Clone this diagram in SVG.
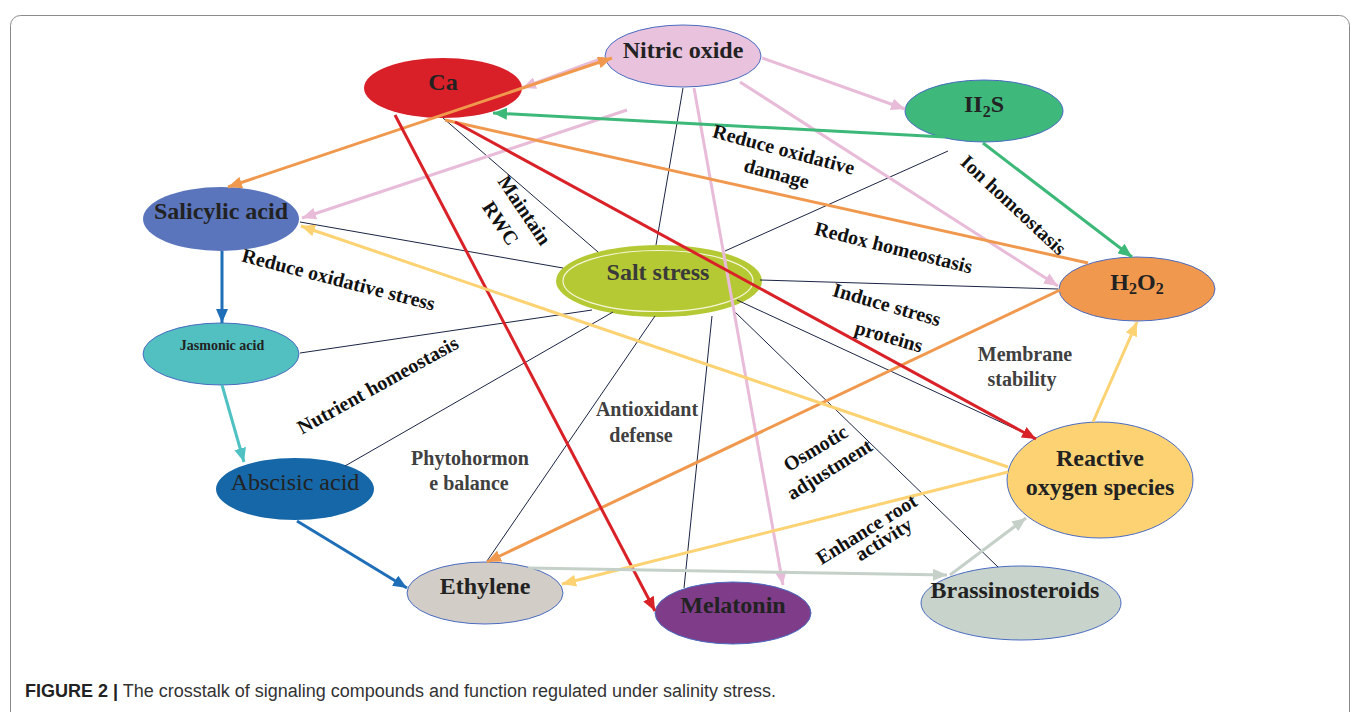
<svg xmlns="http://www.w3.org/2000/svg" width="1357" height="712" viewBox="0 0 1357 712">
<style>
.nt{font-family:"Liberation Serif","Times New Roman",serif;font-weight:bold;font-size:24px;fill:#222;text-anchor:middle}
.lb{font-family:"Liberation Serif","Times New Roman",serif;font-weight:bold;font-size:20px;fill:#111;text-anchor:middle}
.gl{font-family:"Liberation Serif","Times New Roman",serif;font-weight:bold;font-size:20px;fill:#404040;text-anchor:middle}
.nd{stroke:#4a6cc2;stroke-width:1}
.sp{stroke:#1c2444;stroke-width:1;fill:none}
.c{fill:none;stroke-width:3}
</style>
<defs>
<marker id="aPink" markerUnits="userSpaceOnUse" markerWidth="14" markerHeight="12" refX="14" refY="6" orient="auto"><path d="M0,0 L14,6 L0,12 z" fill="#e8bcd8"/></marker>
<marker id="aOr" markerUnits="userSpaceOnUse" markerWidth="14" markerHeight="12" refX="14" refY="6" orient="auto-start-reverse"><path d="M0,0 L14,6 L0,12 z" fill="#f0994e"/></marker>
<marker id="aGr" markerUnits="userSpaceOnUse" markerWidth="14" markerHeight="12" refX="14" refY="6" orient="auto"><path d="M0,0 L14,6 L0,12 z" fill="#3cb878"/></marker>
<marker id="aRed" markerUnits="userSpaceOnUse" markerWidth="14" markerHeight="12" refX="14" refY="6" orient="auto"><path d="M0,0 L14,6 L0,12 z" fill="#d92128"/></marker>
<marker id="aYel" markerUnits="userSpaceOnUse" markerWidth="14" markerHeight="12" refX="14" refY="6" orient="auto"><path d="M0,0 L14,6 L0,12 z" fill="#fcd272"/></marker>
<marker id="aBlue" markerUnits="userSpaceOnUse" markerWidth="14" markerHeight="12" refX="14" refY="6" orient="auto"><path d="M0,0 L14,6 L0,12 z" fill="#1f6fb8"/></marker>
<marker id="aTeal" markerUnits="userSpaceOnUse" markerWidth="14" markerHeight="12" refX="14" refY="6" orient="auto"><path d="M0,0 L14,6 L0,12 z" fill="#4fc1c3"/></marker>
<marker id="aGg" markerUnits="userSpaceOnUse" markerWidth="14" markerHeight="12" refX="14" refY="6" orient="auto"><path d="M0,0 L14,6 L0,12 z" fill="#c5d0c8"/></marker>
</defs>
<rect x="0" y="0" width="1357" height="712" fill="#fff"/>
<rect x="10.5" y="15.5" width="1339" height="720" rx="10" fill="none" stroke="#8a8a8a" stroke-width="1"/>

<g id="node-ca"><ellipse cx="443" cy="88" rx="79" ry="30" fill="#d91f28"/><text class="nt" x="443" y="90">Ca</text></g>
<g id="node-no"><ellipse class="nd" cx="683" cy="56" rx="78" ry="31" fill="#e9c3dd"/><text class="nt" x="683" y="58">Nitric oxide</text></g>
<g id="node-h2s"><ellipse class="nd" cx="984" cy="111" rx="79" ry="31" fill="#3eb87b"/><text class="nt" x="984" y="112">II<tspan style="font-size:16px" dy="5">2</tspan><tspan dy="-5">S</tspan></text></g>
<g id="node-sa"><ellipse cx="221" cy="219" rx="78" ry="32" fill="#5b75bd"/><text class="nt" x="221" y="219">Salicylic acid</text></g>
<g id="node-ja"><ellipse class="nd" cx="221" cy="354" rx="78" ry="31" fill="#52bfc0"/><text class="nt" x="222" y="350" style="font-size:14px">Jasmonic acid</text></g>
<g id="node-aba"><ellipse cx="295" cy="489" rx="79" ry="31" fill="#1667a8"/><text class="nt" x="295" y="490" style="font-weight:normal">Abscisic acid</text></g>
<g id="node-salt"><ellipse cx="659" cy="281" rx="103" ry="36" fill="#b5c934"/><ellipse cx="658" cy="281" rx="95" ry="30.5" fill="none" stroke="#f4f7dc" stroke-width="1.2"/><text class="nt" x="658" y="280" style="fill:#3a3a3a">Salt stress</text></g>
<g id="node-h2o2"><ellipse class="nd" cx="1137" cy="289" rx="78" ry="32" fill="#f0994e"/><text class="nt" x="1137" y="290">H<tspan style="font-size:16px" dy="4">2</tspan><tspan dy="-4">O</tspan><tspan style="font-size:16px" dy="4">2</tspan></text></g>
<g id="node-ros"><ellipse class="nd" cx="1100" cy="480" rx="93" ry="58" fill="#fcd272"/><text class="nt" x="1100" y="466">Reactive</text><text class="nt" x="1100" y="495">oxygen species</text></g>
<g id="node-eth"><ellipse class="nd" cx="485" cy="593" rx="78" ry="31" fill="#d3cdc8"/><text class="nt" x="485" y="594">Ethylene</text></g>
<g id="node-mel"><ellipse class="nd" cx="733" cy="613" rx="78" ry="31" fill="#7f3d89"/><text class="nt" x="733" y="613">Melatonin</text></g>
<g id="node-br"><ellipse class="nd" cx="1021" cy="603" rx="100" ry="37" fill="#c8d3cb"/><text class="nt" x="1015" y="598">Brassinosteroids</text></g>

<g id="connectors">
<line class="sp" x1="443" y1="118" x2="598" y2="252"/>
<line class="sp" x1="683" y1="88" x2="656" y2="245"/>
<line class="sp" x1="948" y1="151" x2="725" y2="251"/>
<line class="sp" x1="300" y1="222" x2="563" y2="268"/>
<line class="sp" x1="300" y1="353" x2="592" y2="310"/>
<line class="sp" x1="345" y1="466" x2="613" y2="312"/>
<line class="sp" x1="487" y1="561" x2="655" y2="316"/>
<line class="sp" x1="684" y1="588" x2="712" y2="316"/>
<line class="sp" x1="998" y1="567" x2="735" y2="312"/>
<line class="sp" x1="737" y1="300" x2="1033" y2="437"/>
<line class="sp" x1="760" y1="280" x2="1058" y2="289"/>

<line class="c" stroke="#e8bcd8" x1="603" y1="58" x2="522" y2="88" marker-end="url(#aPink)"/>
<line class="c" stroke="#e8bcd8" x1="627" y1="110" x2="302" y2="218" marker-end="url(#aPink)"/>
<line class="c" stroke="#e8bcd8" x1="762" y1="58" x2="905" y2="109" marker-end="url(#aPink)"/>
<line class="c" stroke="#e8bcd8" x1="740" y1="82" x2="1058" y2="286" marker-end="url(#aPink)"/>
<line class="c" stroke="#e8bcd8" x1="694" y1="88" x2="783" y2="585" marker-end="url(#aPink)"/>
<line class="c" stroke="#f0994e" x1="228" y1="187" x2="612" y2="58" marker-start="url(#aOr)" marker-end="url(#aOr)"/>
<line class="c" stroke="#f0994e" x1="445" y1="120" x2="1088" y2="263"/>
<line class="c" stroke="#f0994e" x1="1060" y1="290" x2="487" y2="562" marker-end="url(#aOr)"/>
<line class="c" stroke="#3cb878" x1="945" y1="137" x2="493" y2="113" marker-end="url(#aGr)"/>
<line class="c" stroke="#3cb878" x1="983" y1="143" x2="1132" y2="257" marker-end="url(#aGr)"/>
<line class="c" stroke="#d92128" x1="455" y1="122" x2="1036" y2="439" marker-end="url(#aRed)"/>
<line class="c" stroke="#d92128" x1="395" y1="115" x2="655" y2="611" marker-end="url(#aRed)"/>
<line class="c" stroke="#fcd272" x1="1008" y1="467" x2="301" y2="226" marker-end="url(#aYel)"/>
<line class="c" stroke="#fcd272" x1="1008" y1="472" x2="562" y2="584" marker-end="url(#aYel)"/>
<line class="c" stroke="#fcd272" x1="1093" y1="422" x2="1137" y2="322" marker-end="url(#aYel)"/>
<line class="c" stroke="#1f6fb8" x1="222" y1="251" x2="222" y2="323" marker-end="url(#aBlue)"/>
<line class="c" stroke="#4fc1c3" x1="222" y1="385" x2="244" y2="462" marker-end="url(#aTeal)"/>
<line class="c" stroke="#1f6fb8" x1="297" y1="521" x2="407" y2="588" marker-end="url(#aBlue)"/>
<line class="c" stroke="#c5d0c8" x1="528" y1="568" x2="947" y2="575" marker-end="url(#aGg)"/>
<line class="c" stroke="#c5d0c8" x1="950" y1="575" x2="1026" y2="518" marker-end="url(#aGg)"/>
</g>

<g id="labels">
<text class="lb" transform="translate(782,156) rotate(15)">Reduce oxidative</text>
<text class="lb" transform="translate(775,180) rotate(15)">damage</text>
<text class="lb" transform="translate(892,254) rotate(14)">Redox homeostasis</text>
<text class="lb" transform="translate(1009,210) rotate(43)">Ion homeostasis</text>
<text class="lb" transform="translate(885,311) rotate(16)">Induce stress</text>
<text class="lb" transform="translate(887,343) rotate(16)">proteins</text>
<text class="lb" transform="translate(519,214) rotate(56)">Maintain</text>
<text class="lb" transform="translate(495,227) rotate(56)">RWC</text>
<text class="lb" transform="translate(337,286) rotate(14.4)">Reduce oxidative stress</text>
<text class="lb" transform="translate(381,391) rotate(-29)">Nutrient homeostasis</text>
<text class="lb" transform="translate(819,454) rotate(-31)">Osmotic</text>
<text class="lb" transform="translate(833,475) rotate(-32)">adjustment</text>
<text class="lb" transform="translate(870,535) rotate(-32)">Enhance root</text>
<text class="lb" transform="translate(887,545) rotate(-32)">activity</text>
<text class="gl" x="1025" y="361">Membrane</text>
<text class="gl" x="1022" y="386">stability</text>
<text class="gl" x="647" y="416">Antioxidant</text>
<text class="gl" x="641" y="442">defense</text>
<text class="gl" x="470" y="465">Phytohormon</text>
<text class="gl" x="469" y="490">e balance</text>
</g>

<text x="25" y="697" font-family="'Liberation Sans',Arial,sans-serif" font-size="18" fill="#333"><tspan font-weight="bold" fill="#222">FIGURE 2 |</tspan> The crosstalk of signaling compounds and function regulated under salinity stress.</text>
</svg>
